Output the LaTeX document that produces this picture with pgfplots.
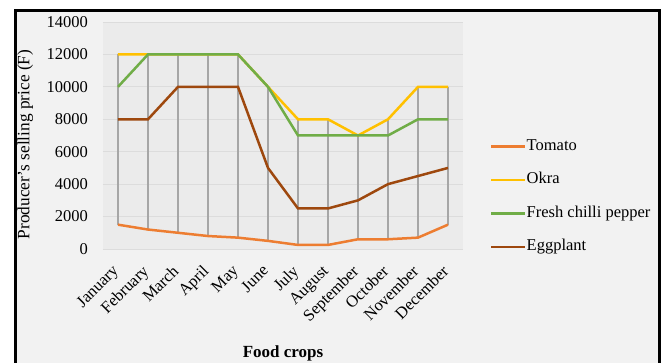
\documentclass[border=0pt]{standalone}
\usepackage{fontspec}
\setmainfont{Liberation Serif}
\usepackage{pgfplots}
\pgfplotsset{compat=1.18}
\usepackage{pgfplotstable}

\definecolor{tomatoc}{HTML}{ED7D31}
\definecolor{okrac}{HTML}{FFC000}
\definecolor{chillic}{HTML}{70AD47}
\definecolor{eggc}{HTML}{9E480E}
\definecolor{chartbg}{HTML}{F2F2F2}
\definecolor{plotbg}{HTML}{EBEBEB}
\definecolor{gridc}{HTML}{DCDCDC}
\definecolor{dropc}{HTML}{A6A6A6}

% Monthly producer prices (F); lo/hi bound the drop lines
\pgfplotstableread{
x tomato okra chilli eggplant lo hi
0  1500 12000 10000  8000 1500 12000
1  1200 12000 12000  8000 1200 12000
2  1000 12000 12000 10000 1000 12000
3   800 12000 12000 10000  800 12000
4   700 12000 12000 10000  700 12000
5   500 10000 10000  5000  500 10000
6   250  8000  7000  2500  250  8000
7   250  8000  7000  2500  250  8000
8   600  7000  7000  3000  600  7000
9   600  8000  7000  4000  600  8000
10  700 10000  8000  4500  700 10000
11 1500 10000  8000  5000 1500 10000
}\prices

\begin{document}
\begin{tikzpicture}[x=1pt,y=1pt]
\useasboundingbox (0,0) rectangle (665,363);
\fill[white] (0,0) rectangle (665,363);
\draw[line width=3pt, fill=chartbg] (15,352) rectangle (659,-10);
\begin{axis}[
  at={(103pt,114pt)}, anchor=south west,
  width=360pt, height=227pt, scale only axis,
  xmin=-0.5, xmax=11.5, ymin=0, ymax=14000,
  ytick={0,2000,...,14000},
  xtick={0,...,11},
  xticklabels={January,February,March,April,May,June,July,August,September,October,November,December},
  scaled y ticks=false,
  /pgf/number format/1000 sep={},
  /pgf/number format/assume math mode=true,
  axis line style={draw=none},
  major tick length=0pt,
  ymajorgrids, grid style={gridc, line width=0.8pt},
  axis background/.style={fill=plotbg},
  tick label style={font=\fontsize{16.5}{18}\selectfont, black},
  yticklabel style={anchor=east, inner sep=0pt, xshift=-15pt},
  xticklabel style={xshift=-6.6pt, yshift=-14.8pt, rotate=45, anchor=north east, inner sep=0pt},
  ylabel={Producer’s selling price (F)},
  ylabel style={at={(axis description cs:-0.216,0.46)}, anchor=center, font=\fontsize{17.3}{19}\selectfont},
  xlabel={Food crops},
  xlabel style={at={(axis description cs:0.5,-0.46)}, anchor=center, font=\fontsize{17}{19}\selectfont\bfseries},
  legend style={at={(axis description cs:1.075,0.231)}, anchor=west, draw=none, fill=none,
    inner sep=0pt, row sep=17.5pt, font=\fontsize{16.5}{18}\selectfont,
    nodes={inner sep=0pt, text height=12pt, text depth=4pt}},
  legend cell align=left,
  legend image code/.code={\draw[#1] (0pt,0pt) -- (34pt,0pt);},
]
% drop lines from the highest to the lowest price of each month
\addplot[draw=none, mark=none, forget plot,
  error bars/.cd, y dir=minus, y explicit,
  error mark=none, error bar style={dropc, line width=1.1pt}]
  table[x=x, y=hi, y error expr=\thisrow{hi}-\thisrow{lo}] {\prices};
\addplot[tomatoc, line width=2.5pt, mark=none] table[x=x, y=tomato] {\prices};
\addlegendentry{Tomato}
\addplot[okrac, line width=2.5pt, mark=none] table[x=x, y=okra] {\prices};
\addlegendentry{Okra}
\addplot[chillic, line width=2.5pt, mark=none] table[x=x, y=chilli] {\prices};
\addlegendentry{Fresh chilli pepper}
\addplot[eggc, line width=2.5pt, mark=none] table[x=x, y=eggplant] {\prices};
\addlegendentry{Eggplant}
\end{axis}
\end{tikzpicture}
\end{document}
